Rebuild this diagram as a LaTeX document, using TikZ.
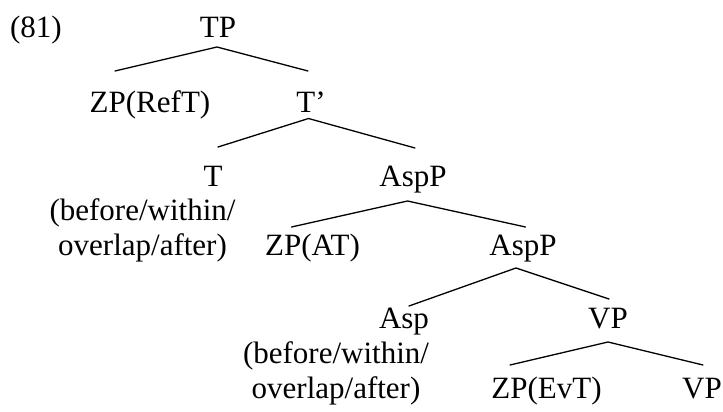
\documentclass[tikz,border=0pt]{standalone}
\usepackage{fontspec}
\setmainfont{Liberation Serif}
\begin{document}
\begin{tikzpicture}[x=1pt,y=-1pt,
  lbl/.style={anchor=base,inner sep=0pt,font=\fontsize{31}{34.5}\selectfont},
  branch/.style={line width=1.3pt,line cap=round}]
\useasboundingbox (0,0) rectangle (723,412);
% labels
\node[lbl] (num) at (36,38) {(81)};
\node[lbl] (tp) at (218,38) {TP};
\node[lbl] (zpref) at (150,113) {ZP(RefT)};
\node[lbl] (tbar) at (311,113) {T’};
\node[lbl] (t) at (213,186) {T};
\node[lbl] (tla) at (142.5,220.5) {(before/within/};
\node[lbl] (tlb) at (142.5,255) {overlap/after)};
\node[lbl] (aspp) at (413,186) {AspP};
\node[lbl] (zpat) at (312.5,255) {ZP(AT)};
\node[lbl] (aspp2) at (523,255) {AspP};
\node[lbl] (asp) at (404,328) {Asp};
\node[lbl] (ala) at (336,363) {(before/within/};
\node[lbl] (alb) at (336,398) {overlap/after)};
\node[lbl] (vp) at (608,328) {VP};
\node[lbl] (zpev) at (546.5,398) {ZP(EvT)};
\node[lbl] (vp2) at (702,398) {VP};
% branch points
\coordinate (tpA) at (217,47);
\coordinate (tpL) at (115,71);
\coordinate (tpR) at (308,71);
\coordinate (tbA) at (308.5,118.5);
\coordinate (tbL) at (218,147);
\coordinate (tbR) at (415,148);
\coordinate (apA) at (407.5,201);
\coordinate (apL) at (291.5,227);
\coordinate (apR) at (525.5,227);
\coordinate (ap2A) at (516,268);
\coordinate (ap2L) at (409,306);
\coordinate (ap2R) at (609,299);
\coordinate (vpA) at (608,342);
\coordinate (vpL) at (510,365);
\coordinate (vpR) at (703,365);
% branches
\draw[branch] (tpL) -- (tpA) -- (tpR);
\draw[branch] (tbL) -- (tbA) -- (tbR);
\draw[branch] (apL) -- (apA) -- (apR);
\draw[branch] (ap2L) -- (ap2A) -- (ap2R);
\draw[branch] (vpL) -- (vpA) -- (vpR);
\end{tikzpicture}
\end{document}
